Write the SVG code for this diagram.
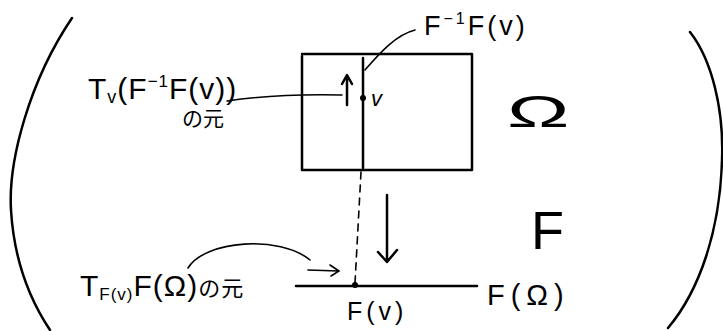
<svg xmlns="http://www.w3.org/2000/svg" width="723" height="331" viewBox="0 0 723 331">
<style>
.ln{fill:none;stroke:#000;stroke-width:2.5;stroke-linecap:round;stroke-linejoin:round}
.th{fill:none;stroke:#000;stroke-width:1.6;stroke-linecap:round}
.t{font-family:"Liberation Sans","Noto Sans CJK JP",sans-serif;fill:#000}
</style>
<rect width="723" height="331" fill="#fff"/>
<g id="paren-left"><path class="ln" d="M72,18 C30,80 8,160 11,210 C14,260 30,300 50,330"/></g>
<g id="paren-right"><path class="ln" d="M690,32 C712,60 724,110 722,160 C720,230 700,290 668,328"/></g>
<g id="omega-box">
<path class="ln" d="M302,56 L302,170 L472,170 L472,54 L302,54"/>
<path class="ln" d="M363,58 L363,168"/>
<circle cx="363" cy="98" r="3" fill="#000"/>
<text class="t" x="371" y="106" font-size="22" font-style="italic">v</text>
</g>
<g id="label-omega"><text class="t" transform="translate(507,127) scale(1.9,1)" font-size="44">Ω</text></g>
<g id="label-F"><text class="t" x="531" y="249" font-size="54">F</text></g>
<g id="label-FinvF"><text class="t" x="424" y="35" font-size="27" letter-spacing="3">F<tspan font-size="16" dy="-11">−1</tspan><tspan dy="11">F(v)</tspan></text></g>
<g id="label-Tv"><text class="t" x="88" y="99" font-size="30" letter-spacing="1">T<tspan font-size="18" dy="4">v</tspan><tspan dy="-4">(F</tspan><tspan font-size="17" dy="-12">−1</tspan><tspan dy="12">F(v))</tspan></text>
<text class="t" x="182" y="126" font-size="21">の元</text></g>
<g id="line-F-omega">
<path class="ln" d="M296,286 L477,286"/>
<circle cx="355" cy="285" r="3" fill="#000"/>
</g>
<g id="label-Fv"><text class="t" x="347" y="320" font-size="25" letter-spacing="4">F(v)</text></g>
<g id="label-FOmega"><text class="t" x="487" y="305" font-size="29" letter-spacing="6">F(Ω)</text></g>
<g id="label-TF"><text class="t" x="80" y="296" font-size="30" letter-spacing="1">T<tspan font-size="17" dy="4">F(v)</tspan><tspan dy="-4">F(Ω)</tspan><tspan font-size="22">の元</tspan></text></g>
<g id="connectors">
<path class="th" d="M227,101 C260,96 300,94 342,95"/>
<path class="th" d="M365,70 C378,55 395,35 415,30"/>
<path class="th" d="M188,268 C205,240 280,235 310,260"/>
<path class="ln" d="M347,105 L347,76 M342,84 L347,75 L352,84"/>
<path class="ln" d="M387,195 L387,262 M378,252 L387,262 L397,250" stroke-width="2.2"/>
<path class="th" d="M361,172 L355,283" stroke-dasharray="7,6" stroke-width="2"/>
<path class="th" d="M308,270 L338,271 M330,265 L339,271 L331,276"/>
</g>
</svg>
